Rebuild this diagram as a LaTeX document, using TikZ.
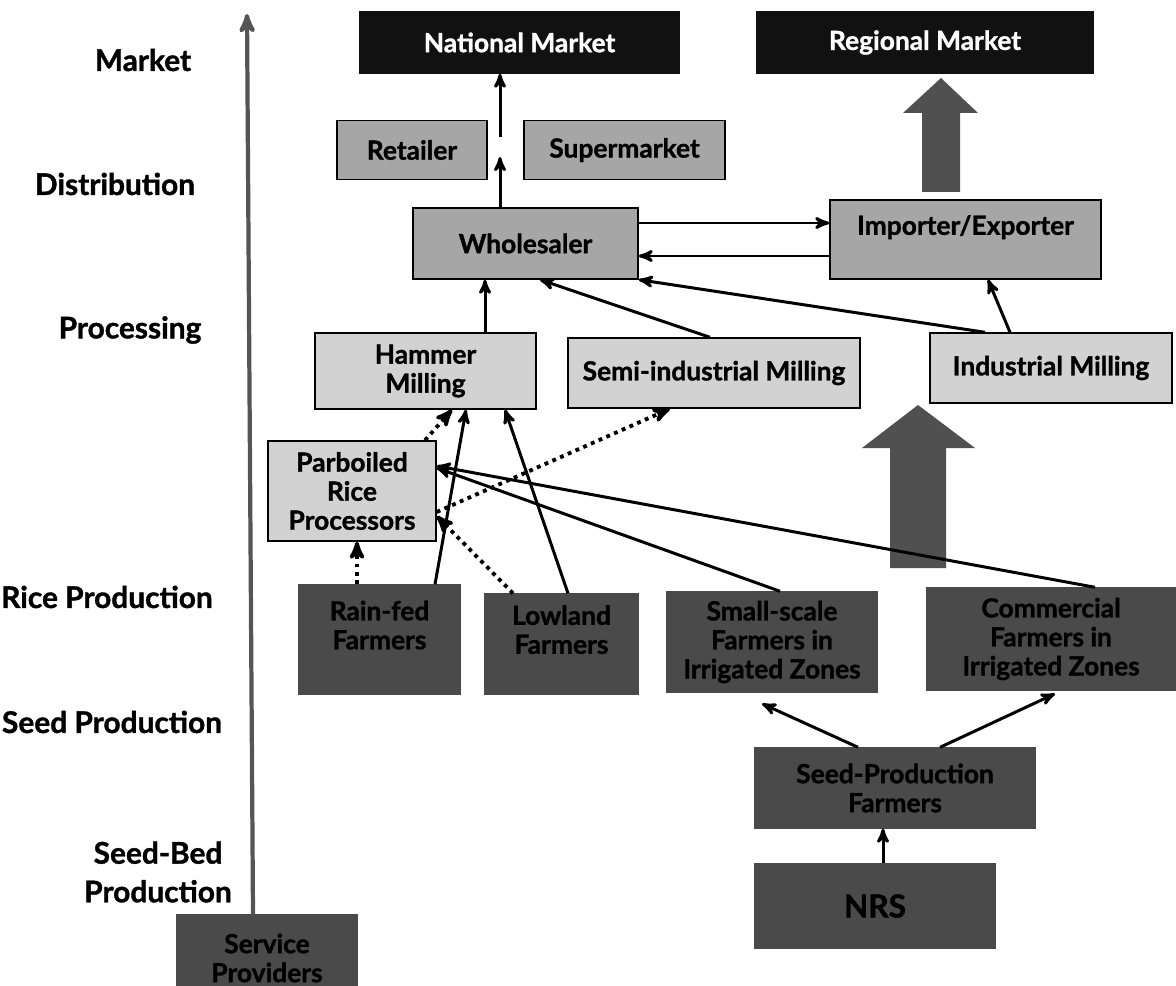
\documentclass[tikz,border=0pt]{standalone}
\usepackage{fontspec}
\setmainfont{Lato}[BoldFeatures={FakeBold=1.2}]
\usepackage{tikz}
\usetikzlibrary{arrows, positioning, calc}

\definecolor{marketfill}{HTML}{111111}
\definecolor{tradefill}{HTML}{A6A6A6}
\definecolor{millfill}{HTML}{D2D2D2}
\definecolor{farmfill}{HTML}{4A4A4A}
\definecolor{fatfill}{HTML}{505050}
\definecolor{axisgrey}{HTML}{555555}

\begin{document}
\begin{tikzpicture}[x=0.02cm,y=-0.02cm,>=stealth',
			font=\fontsize{15}{16.5}\selectfont\bfseries,
			base box/.style={rectangle,draw,line width=0.8pt,align=center,inner sep=2pt},
			boxsize/.style 2 args={minimum width=#1*0.02cm,minimum height=#2*0.02cm},
			market node/.style={base box,fill=marketfill,draw=marketfill,text=white},
			trade node/.style={base box,fill=tradefill},
			mill node/.style={base box,fill=millfill},
			farm node/.style={base box,fill=farmfill,draw=farmfill},
			level/.style={align=center,font=\fontsize{17}{20}\selectfont\bfseries},
			flow/.style={->,line width=1.7pt},
			side flow/.style={->,line width=2.2pt,dash pattern=on 2.2pt off 2.6pt}]
			
			\useasboundingbox (0,0) rectangle (1176,986);
			
			% stages
			\node[level] (lmarket) at (143,60) {Market};
			\node[level] (ldistrib) at (115,184) {Distribution};
			\node[level] (lprocess) at (130,330) {Processing};
			\node[level] (lrice) at (107,597) {Rice Production};
			\node[level] (lseed) at (112,722) {Seed Production};
			\node[level] (lseedbed) at (158,872) {Seed-Bed\\[2pt]Production};
			
			% market and distribution
			\node[market node,boxsize={319}{61}] (national) at (519.5,42.5) {National Market};
			\node[market node,boxsize={336}{61}] (regional) at (925,42.5) {Regional Market};
			\node[trade node,boxsize={150}{59}] (retailer) at (412,150) {Retailer};
			\node[trade node,boxsize={201}{59}] (supermarket) at (624.5,150) {Supermarket};
			\node[trade node,boxsize={225}{71}] (wholesaler) at (525.5,243.5) {Wholesaler};
			\node[trade node,boxsize={271}{79}] (importer) at (965.5,239.5) {Importer/Exporter\\\mbox{}};
			
			% processing
			\node[mill node,boxsize={221}{76}] (hammer) at (425.5,371) {Hammer\\Milling};
			\node[mill node,boxsize={292}{70}] (semi) at (714,373) {Semi-industrial Milling};
			\node[mill node,boxsize={242}{70}] (industrial) at (1051,368) {Industrial Milling};
			\node[mill node,boxsize={168}{100}] (parboiled) at (352,491) {Parboiled\\Rice\\Processors};
			
			% production
			\node[farm node,boxsize={161}{109}] (rainfed) at (379.5,639.5) {Rain-fed\\Farmers\\\mbox{}};
			\node[farm node,boxsize={153}{100}] (lowland) at (561.5,644) {Lowland\\Farmers\\\mbox{}};
			\node[farm node,boxsize={210}{100}] (smallscale) at (772,642) {Small-scale\\Farmers in\\Irrigated Zones};
			\node[farm node,boxsize={248}{102}] (commercial) at (1051,639) {Commercial\\Farmers in\\Irrigated Zones};
			\node[farm node,boxsize={280}{80}] (seedprod) at (895,788) {Seed-Production\\Farmers};
			\node[farm node,boxsize={240}{84},font=\fontsize{18}{20}\selectfont\bfseries] (nrs) at (875,906) {NRS};
			\node[farm node,boxsize={180}{86}] (service) at (267,958) {Service\\Providers};
			
			% fat arrows
			\fill[fatfill] (922,192) -- (922,113) -- (903,113) -- (941,78) -- (978,113) -- (960,113) -- (960,192) -- cycle;
			\fill[fatfill] (890,568) -- (890,448) -- (862,448) -- (918,405) -- (975,448) -- (946,448) -- (946,568) -- cycle;
			
			% value chain axis
			\coordinate (axistop) at (247,14);
			\draw[->,line width=2.4pt,draw=axisgrey] (service.north -| 253,0) -- (axistop);
			
			\coordinate (gaplow) at (500,157);
			\coordinate (gaphigh) at (500,137);
			
			\path[flow]
			(wholesaler.north -| 500,0) edge (gaplow)
			(gaphigh) edge (national.south -| 500,0)
			(wholesaler.east |- 0,223) edge (importer.west |- 0,223)
			(importer.west |- 0,256) edge (wholesaler.east |- 0,256)
			(hammer.north -| 485,0) edge (wholesaler.south -| 485,0)
			(semi.north -| 710,0) edge (wholesaler.south -| 540,0)
			(industrial.north -| 985,0) edge (wholesaler.south east)
			(industrial.north -| 1010,0) edge (importer.south -| 988,0)
			(rainfed.north -| 435,0) edge (hammer.south -| 466,0)
			(lowland.north -| 568,0) edge (hammer.south -| 505,0)
			(smallscale.north -| 780,0) edge (parboiled.east |- 0,468)
			(commercial.north -| 1095,0) edge (parboiled.east |- 0,466)
			(seedprod.north -| 858,0) edge ($(smallscale.south -| 762,0)+(0,11)$)
			(seedprod.north -| 940,0) edge ($(commercial.south -| 1055,0)+(0,3)$)
			(nrs.north -| 883,0) edge (seedprod.south -| 883,0);
			
			\path[side flow]
			(rainfed.north -| 357,0) edge (parboiled.south -| 357,0)
			(lowland.north -| 513,0) edge (parboiled.east |- 0,516)
			(parboiled.east |- 0,512) edge (semi.south -| 670,0)
			(parboiled.north -| 425,0) edge (hammer.south -| 452,0);
		\end{tikzpicture}
\end{document}
